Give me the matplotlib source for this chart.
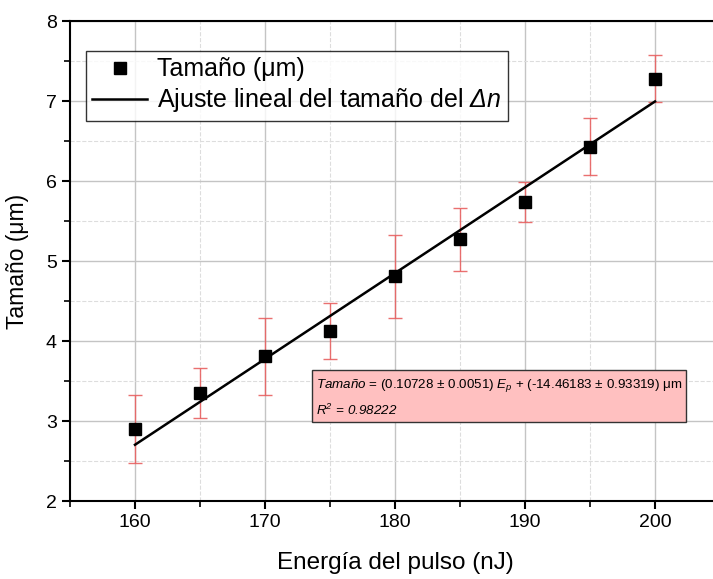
import matplotlib
matplotlib.use("Agg")
import matplotlib.pyplot as plt
import numpy as np
from matplotlib.ticker import MultipleLocator

plt.rcParams['font.family'] = ['Liberation Sans', 'DejaVu Sans']
plt.rcParams['mathtext.fontset'] = 'custom'
plt.rcParams['mathtext.rm'] = 'Liberation Sans'
plt.rcParams['mathtext.it'] = 'Liberation Sans:italic'
plt.rcParams['mathtext.sf'] = 'Liberation Sans:italic'

# datos
energia = [160, 165, 170, 175, 180, 185, 190, 195, 200]
tamano = [2.90, 3.35, 3.81, 4.12, 4.81, 5.27, 5.74, 6.43, 7.28]
error = [0.42, 0.31, 0.48, 0.35, 0.52, 0.39, 0.25, 0.36, 0.29]

# ajuste lineal
pendiente = 0.10728
ordenada = -14.46183
x_ajuste = np.array([160, 200])
y_ajuste = pendiente * x_ajuste + ordenada

fig = plt.figure(figsize=(7.13, 5.79), dpi=100)
ax = fig.add_axes([70 / 713, 1 - 501 / 579, 650 / 713, 480 / 579])

ax.grid(which='major', color='#c4c4c4', linewidth=1.0, linestyle='-')
ax.grid(which='minor', color='#dddddd', linewidth=0.8, linestyle='--')
ax.set_axisbelow(True)

ax.errorbar(energia, tamano, yerr=error, fmt='none', ecolor='#e86060',
            elinewidth=1.0, capsize=5, capthick=1.0, alpha=0.9, zorder=2)
ax.plot(x_ajuste, y_ajuste, color='black', linewidth=1.8, zorder=3,
        label=r'Ajuste lineal del tamaño del $\mathsf{\Delta n}$')
ax.plot(energia, tamano, 's', color='black', markersize=9, zorder=4,
        label='Tamaño (μm)')

ax.set_xlim(155, 205)
ax.set_ylim(2, 8)
ax.xaxis.set_major_locator(MultipleLocator(10))
ax.xaxis.set_minor_locator(MultipleLocator(5))
ax.yaxis.set_major_locator(MultipleLocator(1))
ax.yaxis.set_minor_locator(MultipleLocator(0.5))
ax.tick_params(which='major', direction='out', length=6, width=1.5, labelsize=14)
ax.tick_params(which='minor', direction='out', length=4, width=1.2)
for s in ax.spines.values():
    s.set_linewidth(1.5)

ax.set_xlabel('Energía del pulso (nJ)', fontsize=17.5, labelpad=15)
ax.set_ylabel('Tamaño (μm)', fontsize=16.5, labelpad=12)

handles, labels = ax.get_legend_handles_labels()
leg = ax.legend(handles[::-1], labels[::-1], loc='upper left',
                bbox_to_anchor=(16 / 650, 1 - 30 / 480), fontsize=18,
                frameon=True, fancybox=False, edgecolor='black',
                handlelength=2.2, borderpad=0.25, labelspacing=0.2,
                handletextpad=0.4, borderaxespad=0)
leg.get_frame().set_linewidth(1.0)

texto = (r'$\mathsf{Tamaño}$ = (0.10728 ± 0.0051) $\mathsf{E_p}$ + '
         r'(-14.46183 ± 0.93319) μm' + '\n' + r'$\mathsf{R^2\,=\,0.98222}$')
ax.text(246 / 650, 1 - 356 / 480, texto, transform=ax.transAxes,
        fontsize=9.6, va='top', ha='left', linespacing=1.7,
        bbox=dict(boxstyle='square,pad=0.3', facecolor='#ffc0c0',
                  edgecolor='#333333', linewidth=1.0), zorder=5)

fig.savefig('out.png', dpi=100)
